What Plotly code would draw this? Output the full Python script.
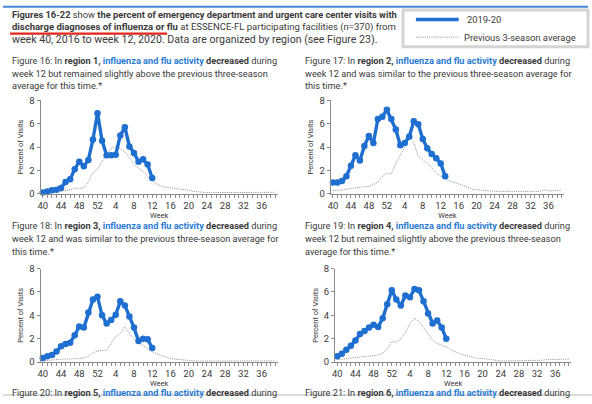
import plotly.graph_objects as go

# season weeks: week 40 of 2019 through week 39 of 2020
weeks = list(range(40, 53)) + list(range(1, 40))
week_labels = [str(w) for w in weeks]
tick_text = [w if i % 4 == 0 else "" for i, w in enumerate(week_labels)]

# percent of visits, 2019-20 season (through week 12/13)
region1_2019 = [0.1, 0.2, 0.3, 0.35, 0.5, 1.0, 1.25, 2.1, 2.75, 2.35, 2.9, 4.65, 6.9,
                4.55, 3.3, 3.3, 3.35, 5.0, 5.7, 4.05, 3.5, 2.75, 2.95, 2.5, 1.35]
region2_2019 = [0.97, 0.97, 1.1, 1.5, 2.4, 3.3, 2.85, 4.1, 4.95, 4.35, 6.4, 6.6, 7.2,
                6.4, 5.5, 4.15, 4.35, 4.9, 6.2, 5.95, 4.7, 3.9, 3.4, 3.05, 2.6, 1.5]
region3_2019 = [0.35, 0.5, 0.6, 0.9, 1.35, 1.55, 1.65, 2.3, 3.05, 2.95, 4.25, 5.35, 5.6,
                4.0, 3.3, 3.6, 4.05, 5.2, 4.85, 3.9, 2.95, 1.8, 2.0, 1.95, 1.2]
region4_2019 = [0.5, 0.7, 1.05, 1.4, 1.85, 2.4, 2.65, 2.95, 3.2, 3.0, 3.75, 4.95, 6.15,
                5.35, 4.85, 5.7, 5.55, 6.25, 6.15, 5.2, 4.15, 3.3, 3.55, 2.95, 2.0]

# previous 3-season average, full season
region1_prev = [0.1, 0.1, 0.12, 0.15, 0.2, 0.25, 0.35, 0.45, 0.45, 0.5, 1.0, 1.8, 2.1,
                2.8, 3.4, 3.9, 4.05, 3.85, 3.6, 3.1, 2.5, 2.2, 1.9, 1.5, 1.1, 0.85,
                0.65, 0.55, 0.5, 0.45, 0.4, 0.4, 0.3, 0.2, 0.15, 0.12, 0.1, 0.1, 0.1,
                0.08, 0.08, 0.08, 0.08, 0.08, 0.08, 0.1, 0.1, 0.1, 0.12, 0.12, 0.12, 0.12]
region2_prev = [0.28, 0.3, 0.3, 0.4, 0.45, 0.5, 0.5, 0.55, 0.65, 0.8, 1.0, 1.5, 1.75,
                1.7, 2.6, 3.3, 4.0, 4.8, 4.4, 3.2, 2.9, 2.6, 2.2, 1.8, 1.5, 1.25,
                1.1, 1.0, 0.85, 0.7, 0.55, 0.4, 0.35, 0.3, 0.25, 0.2, 0.2, 0.2, 0.2,
                0.2, 0.18, 0.15, 0.15, 0.15, 0.15, 0.15, 0.2, 0.35, 0.25, 0.25, 0.3, 0.3]
region3_prev = [0.1, 0.15, 0.2, 0.2, 0.25, 0.25, 0.25, 0.3, 0.3, 0.35, 0.5, 0.8, 0.95,
                1.0, 1.0, 1.6, 2.2, 2.45, 3.0, 2.45, 2.0, 1.65, 1.4, 1.1, 0.9, 0.7,
                0.55, 0.4, 0.3, 0.25, 0.2, 0.15, 0.1, 0.1, 0.08, 0.08, 0.05, 0.05, 0.05,
                0.05, 0.05, 0.05, 0.05, 0.05, 0.05, 0.05, 0.08, 0.08, 0.1, 0.1, 0.1, 0.1]
region4_prev = [0.2, 0.25, 0.25, 0.3, 0.35, 0.45, 0.5, 0.5, 0.55, 0.6, 0.75, 1.1, 1.75,
                1.7, 2.0, 2.5, 3.3, 3.75, 3.5, 2.9, 2.4, 1.85, 1.6, 1.45, 1.3, 1.05,
                0.85, 0.7, 0.6, 0.5, 0.4, 0.3, 0.3, 0.25, 0.2, 0.12, 0.1, 0.1, 0.1,
                0.1, 0.1, 0.1, 0.1, 0.1, 0.12, 0.15, 0.2, 0.2, 0.2, 0.2, 0.25, 0.25]

W, H = 592, 404
FONT = "Roboto, 'Liberation Sans', sans-serif"
TXT = "#3a3a3a"
BLUE = "#1f6fd1"
LINK = "#2b7bd3"
GRID = "#8a8a8a"


def px(x):
    return x / W


def py(y):
    return 1 - y / H


# plot area boxes in page pixels: left, right, top (y=8), bottom (y=0)
panels = [
    (37.7, 276, 97, 193, region1_2019, region1_prev),
    (329.4, 564, 97, 193, region2_2019, region2_prev),
    (37.7, 276, 270, 366, region3_2019, region3_prev),
    (333.7, 571, 270, 366, region4_2019, region4_prev),
]

fig = go.Figure()
layout = {}
for k, (l, r, t, b, cur, prev) in enumerate(panels, start=1):
    xa = "x" if k == 1 else f"x{k}"
    ya = "y" if k == 1 else f"y{k}"
    fig.add_trace(go.Scatter(x=week_labels[:len(prev)], y=prev, xaxis=xa, yaxis=ya,
                             mode="lines", line=dict(color="#8c8c8c", width=1, dash="1px,1.2px"),
                             showlegend=False, hoverinfo="skip"))
    fig.add_trace(go.Scatter(x=week_labels[:len(cur)], y=cur, xaxis=xa, yaxis=ya,
                             mode="lines+markers", line=dict(color=BLUE, width=3.4),
                             marker=dict(size=6.5, color=BLUE), cliponaxis=False,
                             showlegend=False))
    suffix = "" if k == 1 else str(k)
    layout["xaxis" + suffix] = dict(
        domain=[px(l), px(r)], anchor=ya, type="category",
        categoryorder="array", categoryarray=week_labels,
        range=[-0.5, 51.5], tickmode="array", tickvals=week_labels, ticktext=tick_text,
        ticks="outside", ticklen=3, tickcolor=GRID, showline=True, linecolor=GRID,
        linewidth=1, showgrid=False, zeroline=False,
        tickfont=dict(size=9.5, color=TXT, family=FONT),
        title=dict(text="Week", standoff=0, font=dict(size=7.5, color=TXT, family=FONT)),
    )
    layout["yaxis" + suffix] = dict(
        domain=[py(b), py(t)], anchor=xa, range=[0, 8], dtick=2,
        ticks="outside", ticklen=3, tickcolor=GRID, showline=True, linecolor=GRID,
        linewidth=1, showgrid=False, zeroline=False,
        tickfont=dict(size=9.5, color=TXT, family=FONT),
        title=dict(text="Percent of Visits", standoff=4,
                   font=dict(size=7.5, color=TXT, family=FONT)),
    )

fig.update_layout(**layout)

annotations = []


def line_text(x, y, text, size):
    annotations.append(dict(x=px(x), y=py(y), xref="paper", yref="paper", text=text,
                            showarrow=False, xanchor="left", yanchor="middle",
                            font=dict(size=size, color=TXT, family=FONT)))


def activity(fig_no, region):
    return (f"Figure {fig_no}: In <b>region {region},</b> "
            f"<span style='color:{LINK}'><b>influenza and flu activity</b></span> "
            f"<b>decreased</b> during")


# intro paragraph
line_text(7, 9, "<b>Figures 16-22</b> show <b>the percent of emergency department and "
                "urgent care center visits with</b>", 9.3)
line_text(7, 22, "<b>discharge diagnoses of influenza or flu</b> at ESSENCE-FL participating "
                 "facilities (n=370) from", 9.5)
line_text(7, 34, "week 40, 2016 to week 12, 2020. Data are organized by region (see Figure 23).",
          10.6)

# figure captions
CAP = 9.2
above = ["week 12 but remained slightly above the previous three-season",
         "average for this time.*"]
similar = ["week 12 and was similar to the previous three-season average for",
           "this time.*"]
captions = [(7, 56, 16, 1, above), (302, 56, 17, 2, similar),
            (7, 226, 18, 3, similar), (302, 226, 19, 4, above),
            (7, 397, 20, 5, []), (302, 397, 21, 6, [])]
for x0, y0, fno, reg, rest in captions:
    line_text(x0, y0, activity(fno, reg), CAP)
    for j, s in enumerate(rest):
        line_text(x0, y0 + 13 * (j + 1), s, CAP)

# legend box
line_text(464, 14, "2019-20", 9.4)
line_text(461, 32, "Previous 3-season average", 9.4)

shapes = [
    dict(type="line", xref="paper", yref="paper", x0=0, x1=px(588), y0=py(0.8), y1=py(0.8),
         line=dict(color="#4a86d8", width=2)),
    dict(type="line", xref="paper", yref="paper", x0=px(7), x1=px(165), y0=py(28.5),
         y1=py(28.5), line=dict(color="#e3251b", width=2.2)),
    dict(type="rect", xref="paper", yref="paper", x0=px(402), x1=px(588), y0=py(42),
         y1=py(4), line=dict(color="#d4d4d4", width=3), fillcolor="rgba(0,0,0,0)"),
    dict(type="line", xref="paper", yref="paper", x0=px(415), x1=px(458), y0=py(14),
         y1=py(14), line=dict(color=BLUE, width=3.5)),
    dict(type="line", xref="paper", yref="paper", x0=px(415), x1=px(458), y0=py(32),
         y1=py(32), line=dict(color="#8c8c8c", width=1, dash="1px,1.2px")),
    dict(type="line", xref="paper", yref="paper", x0=0, x1=1, y0=py(400), y1=py(400),
         line=dict(color="#cfcfcf", width=1.5)),
]

fig.update_layout(
    width=W, height=H, margin=dict(l=0, r=0, t=0, b=0),
    paper_bgcolor="white", plot_bgcolor="white",
    font=dict(family=FONT, color=TXT),
    annotations=annotations, shapes=shapes,
)

fig.write_html("out.html", config={"displayModeBar": False},
               post_script="document.body.style.margin = '0px';")
